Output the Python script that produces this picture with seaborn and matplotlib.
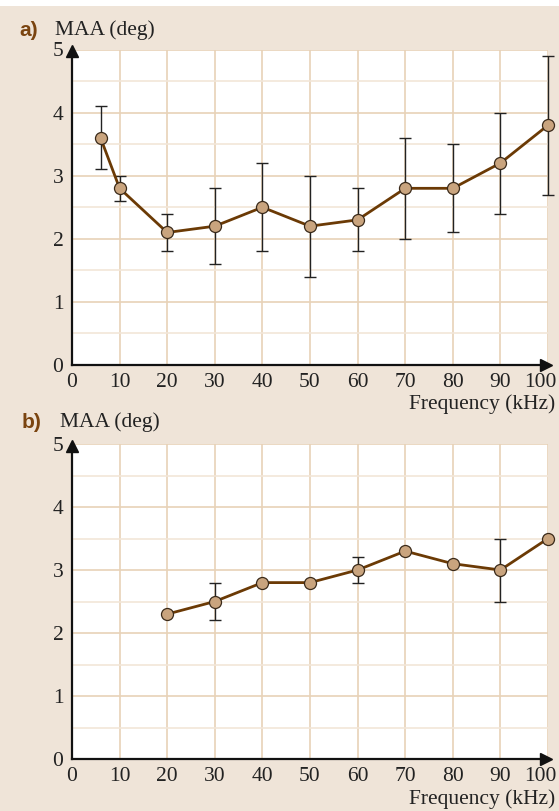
import matplotlib
matplotlib.use("Agg")
import matplotlib.pyplot as plt
import matplotlib.transforms as mtransforms
import seaborn as sns
import pandas as pd
from matplotlib.patches import Rectangle

# ---- data ----
freq_a = [6, 10, 20, 30, 40, 50, 60, 70, 80, 90, 100]
maa_a = [3.6, 2.8, 2.1, 2.2, 2.5, 2.2, 2.3, 2.8, 2.8, 3.2, 3.8]
err_a = [0.5, 0.2, 0.3, 0.6, 0.7, 0.8, 0.5, 0.8, 0.7, 0.8, 1.1]

freq_b = [20, 30, 40, 50, 60, 70, 80, 90, 100]
maa_b = [2.3, 2.5, 2.8, 2.8, 3.0, 3.3, 3.1, 3.0, 3.5]
err_b = [0, 0.3, 0, 0, 0.2, 0, 0, 0.5, 0]

x_ticks = [0, 10, 20, 30, 40, 50, 60, 70, 80, 90, 100]
y_ticks = [0, 1, 2, 3, 4, 5]

sns.set_style("white")
plt.rcParams['font.family'] = ['Liberation Serif', 'DejaVu Serif']

BG = "#EFE4D8"
GRID_MAJ = "#E8D2B8"
GRID_MIN = "#F2E6D8"
LINE = "#6B3A05"
MARK = "#C9A47E"
BRAND = "#7A4410"
FS = 15.5


def draw_panel(fig, ax, xs, ys, es, label, ylab_x, ylab_y, lab_x, freq_y):
    ax.set_facecolor("white")
    ax.set_xlim(0, 100)
    ax.set_ylim(0, 5)
    for gx in x_ticks[1:]:
        ax.axvline(gx, color=GRID_MAJ, lw=1.2, zorder=0)
    for gy in [0.5, 1.5, 2.5, 3.5, 4.5]:
        ax.axhline(gy, color=GRID_MIN, lw=1.2, zorder=0)
    for gy in y_ticks[1:]:
        ax.axhline(gy, color=GRID_MAJ, lw=1.2, zorder=0)

    df = pd.DataFrame({"f": xs, "m": ys, "e": es})
    sub = df[df["e"] > 0]
    ax.errorbar(sub["f"], sub["m"], yerr=sub["e"], fmt="none", ecolor="#222222",
                elinewidth=1.0, capsize=4, capthick=1.0, zorder=2, clip_on=False)
    sns.lineplot(data=df, x="f", y="m", ax=ax, color=LINE, lw=2.0, zorder=3,
                 clip_on=False)
    sns.scatterplot(data=df, x="f", y="m", ax=ax, color=MARK, s=75,
                    edgecolor="#3a2a1a", linewidth=0.9, zorder=4, clip_on=False)

    for s in ["top", "right"]:
        ax.spines[s].set_visible(False)
    for s in ["left", "bottom"]:
        ax.spines[s].set_color("#111111")
        ax.spines[s].set_linewidth(1.6)
    ax.plot([0], [0.995], marker="^", color="#111111", ms=8, transform=ax.transAxes,
            clip_on=False, zorder=6)
    ax.plot([0.995], [0], marker=">", color="#111111", ms=8, transform=ax.transAxes,
            clip_on=False, zorder=6)

    ax.set_xticks(x_ticks)
    ax.set_xticklabels([str(t) for t in x_ticks])
    ax.set_yticks(y_ticks)
    ax.set_yticklabels([str(t) for t in y_ticks])
    ax.tick_params(axis="both", length=0, labelsize=FS, colors="#222222")
    ax.tick_params(axis="x", pad=6)
    ax.tick_params(axis="y", pad=6)
    ax.set_xlabel("")
    ax.set_ylabel("")
    lbls = ax.get_xticklabels()
    lbls[-1].set_transform(lbls[-1].get_transform() +
                           mtransforms.ScaledTranslation(-8 / 100, 0, fig.dpi_scale_trans))
    ylb = ax.get_yticklabels()
    ylb[0].set_transform(ylb[0].get_transform() +
                         mtransforms.ScaledTranslation(-1 / 100, 0, fig.dpi_scale_trans))

    fig.text(lab_x / 559, 1 - ylab_y / 811, label, fontsize=15, fontweight="bold",
             color=BRAND, family=["Liberation Sans", "DejaVu Sans"], va="center", ha="left")
    fig.text(ylab_x / 559, 1 - ylab_y / 811, "MAA (deg)", fontsize=FS,
             color="#222222", va="center", ha="left")
    fig.text(555 / 559, 1 - freq_y / 811, "Frequency (kHz)", fontsize=FS,
             color="#222222", va="center", ha="right")


fig = plt.figure(figsize=(5.59, 8.11), dpi=100)
fig.patch.set_facecolor("white")
fig.add_artist(Rectangle((0, 0), 1, 1 - 6 / 811, transform=fig.transFigure,
                         facecolor=BG, edgecolor="none", zorder=-10))

left = 72 / 559
width = (548 - 72) / 559
ax_a = fig.add_axes([left, 1 - 365 / 811, width, (365 - 49.5) / 811])
ax_b = fig.add_axes([left, 1 - 759 / 811, width, (759 - 444) / 811])

draw_panel(fig, ax_a, freq_a, maa_a, err_a, "a)", 55, 30, 19, 404)
draw_panel(fig, ax_b, freq_b, maa_b, err_b, "b)", 60, 422, 22, 799)

fig.savefig("out.png", dpi=100, facecolor=fig.get_facecolor())
